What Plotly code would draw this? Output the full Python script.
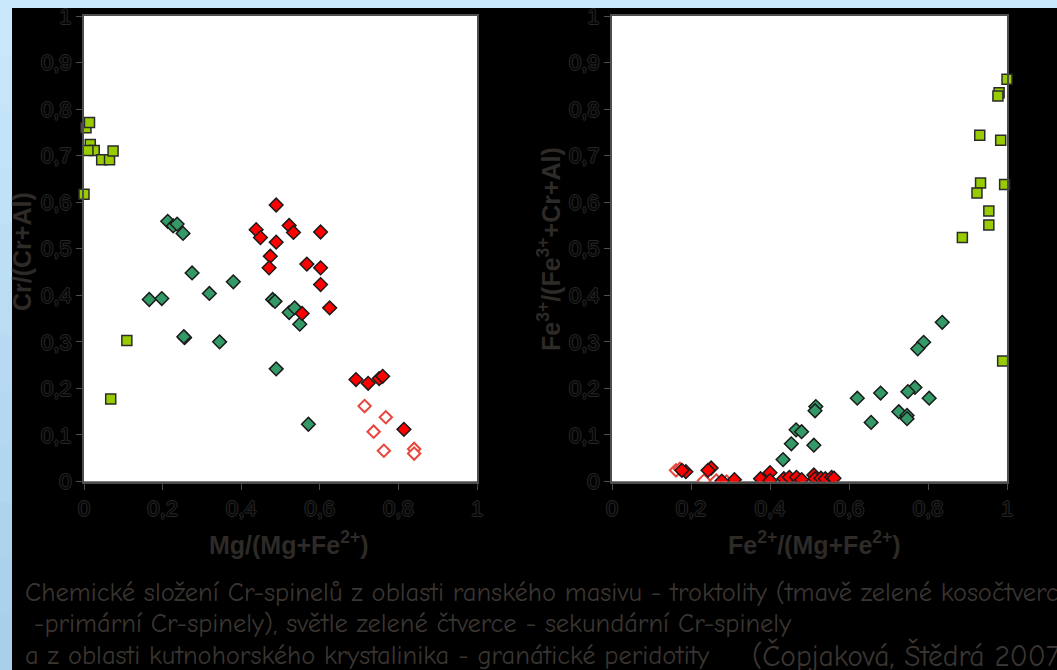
import plotly.graph_objects as go

# --- Cr/(Cr+Al) vs Mg/(Mg+Fe2+) ---------------------------------------------
sec_left_x = [0.005, 0.014, 0.016, 0.026, 0.010, 0.045, 0.065, 0.074, 0.000, 0.109, 0.068]
sec_left_y = [0.760, 0.771, 0.724, 0.711, 0.711, 0.691, 0.691, 0.710, 0.617, 0.303, 0.177]

trok_left_x = [0.213, 0.227, 0.237, 0.252, 0.275, 0.319, 0.380, 0.166, 0.198, 0.256,
               0.254, 0.345, 0.480, 0.486, 0.522, 0.536, 0.549, 0.489, 0.571]
trok_left_y = [0.559, 0.549, 0.553, 0.533, 0.448, 0.404, 0.429, 0.391, 0.393, 0.309,
               0.311, 0.300, 0.391, 0.387, 0.363, 0.373, 0.338, 0.242, 0.123]

perid_left_x = [0.489, 0.438, 0.449, 0.522, 0.533, 0.489, 0.602, 0.474, 0.471, 0.567,
                0.602, 0.602, 0.625, 0.555, 0.692, 0.723, 0.751, 0.760, 0.814]
perid_left_y = [0.594, 0.541, 0.524, 0.550, 0.535, 0.514, 0.536, 0.484, 0.459, 0.467,
                0.459, 0.423, 0.373, 0.361, 0.219, 0.211, 0.221, 0.226, 0.112]

perid_open_left_x = [0.714, 0.768, 0.737, 0.763, 0.840, 0.840]
perid_open_left_y = [0.162, 0.138, 0.107, 0.066, 0.070, 0.060]

# --- Fe3+/(Fe3++Cr+Al) vs Fe2+/(Mg+Fe2+) ------------------------------------
sec_right_x = [1.000, 0.980, 0.977, 0.931, 0.984, 0.933, 0.924, 0.994, 0.954, 0.954, 0.887, 0.989]
sec_right_y = [0.864, 0.835, 0.828, 0.744, 0.733, 0.641, 0.620, 0.638, 0.581, 0.551, 0.524, 0.259]

trok_right_x = [0.836, 0.789, 0.774, 0.767, 0.749, 0.803, 0.680, 0.621, 0.656, 0.726,
                0.747, 0.747, 0.516, 0.514, 0.466, 0.480, 0.454, 0.511, 0.433]
trok_right_y = [0.342, 0.299, 0.285, 0.202, 0.193, 0.179, 0.190, 0.179, 0.127, 0.150,
                0.142, 0.135, 0.161, 0.152, 0.111, 0.107, 0.081, 0.078, 0.047]

perid_right_x = [0.187, 0.177, 0.251, 0.243, 0.310, 0.278, 0.376, 0.400, 0.400, 0.435,
                 0.449, 0.467, 0.480, 0.511, 0.514, 0.529, 0.540, 0.556, 0.562]
perid_right_y = [0.021, 0.024, 0.029, 0.024, 0.004, 0.001, 0.006, 0.019, 0.002, 0.006,
                 0.009, 0.009, 0.004, 0.014, 0.006, 0.007, 0.006, 0.009, 0.007]

perid_open_right_x = [0.162, 0.172, 0.233, 0.264, 0.290]
perid_open_right_y = [0.024, 0.027, 0.002, 0.002, 0.000]

x_ticks = [0, 0.2, 0.4, 0.6, 0.8, 1]
y_ticks = [0, 0.1, 0.2, 0.3, 0.4, 0.5, 0.6, 0.7, 0.8, 0.9, 1]

caption_lines = [
    "Chemické složení Cr-spinelů z oblasti ranského masivu - troktolity (tmavě zelené kosočtverce",
    " -primární Cr-spinely), světle zelené čtverce - sekundární Cr-spinely",
    "a z oblasti kutnohorského krystalinika - granátické peridotity",
]
citation = "(Čopjaková, Štědrá 2007)"

W, H = 1057, 670

SQ = dict(symbol="square", size=10, color="#99cc00", line=dict(color="#2b2b2b", width=1.5))
DG = dict(symbol="diamond", size=10.5, color="#339966", line=dict(color="#1a1a1a", width=1.5))
RD = dict(symbol="diamond", size=10.5, color="#ff0000", line=dict(color="#1a1a1a", width=1.5))
RO = dict(symbol="diamond", size=9.5, color="#ffffff", line=dict(color="#e8453c", width=2))

fig = go.Figure()


def add_panel(xa, ya, sx, sy, tx, ty, px, py, ox, oy):
    fig.add_trace(go.Scatter(x=sx, y=sy, mode="markers", marker=SQ, xaxis=xa, yaxis=ya,
                             cliponaxis=False, hoverinfo="skip"))
    fig.add_trace(go.Scatter(x=tx, y=ty, mode="markers", marker=DG, xaxis=xa, yaxis=ya,
                             hoverinfo="skip"))
    fig.add_trace(go.Scatter(x=ox, y=oy, mode="markers", marker=RO, xaxis=xa, yaxis=ya,
                             hoverinfo="skip"))
    fig.add_trace(go.Scatter(x=px, y=py, mode="markers", marker=RD, xaxis=xa, yaxis=ya,
                             hoverinfo="skip"))


add_panel("x", "y", sec_left_x, sec_left_y, trok_left_x, trok_left_y,
          perid_left_x, perid_left_y, perid_open_left_x, perid_open_left_y)
add_panel("x2", "y2", sec_right_x, sec_right_y, trok_right_x, trok_right_y,
          perid_right_x, perid_right_y, perid_open_right_x, perid_open_right_y)

tick_font = dict(family="Liberation Sans, Arial, sans-serif", size=22, color="#050505",
                 shadow="1px 0 0 #262626, -1px 0 0 #262626, 0 1px 0 #262626, 0 -1px 0 #262626")

axis_common = dict(range=[0, 1], showgrid=False, zeroline=False, showline=True, mirror=True,
                   linecolor="#4d4d4d", linewidth=2, ticks="outside", ticklen=6,
                   tickcolor="#4d4d4d", tickwidth=1, tickfont=tick_font, fixedrange=True,
                   automargin=False)

# plot areas in figure pixels
y_dom = [(H - 481.5) / H, (H - 16) / H]
fig.update_layout(
    width=W, height=H,
    autosize=False,
    margin=dict(l=0, r=0, t=0, b=0, pad=0, autoexpand=False),
    paper_bgcolor="#000000",
    plot_bgcolor="#ffffff",
    showlegend=False,
    separators=", ",
    xaxis=dict(domain=[84 / W, 477 / W], anchor="y", tickvals=x_ticks, **axis_common),
    yaxis=dict(domain=y_dom, anchor="x", tickvals=y_ticks, **axis_common),
    xaxis2=dict(domain=[612 / W, 1007 / W], anchor="y2", tickvals=x_ticks, **axis_common),
    yaxis2=dict(domain=y_dom, anchor="x2", tickvals=y_ticks, **axis_common),
)

title_font = dict(family="Liberation Sans, Arial, sans-serif", size=25, color="#2e2a27")
titles = [
    ("Mg/(Mg+Fe<sup>2+</sup>)", 289, 543, 0),
    ("Fe<sup>2+</sup>/(Mg+Fe<sup>2+</sup>)", 814, 543, 0),
    ("Cr/(Cr+Al)", 22, 252, -90),
    ("Fe<sup>3+</sup>/(Fe<sup>3+</sup>+Cr+Al)", 549, 249, -90),
]
for text, px_, py_, ang in titles:
    fig.add_annotation(text="<b>" + text + "</b>", xref="paper", yref="paper",
                       x=px_ / W, y=(H - py_) / H, xanchor="center", yanchor="middle",
                       textangle=ang, showarrow=False, font=title_font)

cap_font = dict(family="Comic Sans MS, Comic Neue, DejaVu Sans, sans-serif", size=26.5,
                color="#3a3531")
for line, px_, py_ in zip(caption_lines, [23, 23, 23], [592, 623, 655]):
    fig.add_annotation(text=line.replace(" ", "&nbsp;"),
                       xref="paper", yref="paper", x=px_ / W, y=(H - py_) / H,
                       xanchor="left", yanchor="middle", showarrow=False, font=cap_font)
fig.add_annotation(text=citation.replace(" ", "&nbsp;"), xref="paper", yref="paper",
                   x=750 / W, y=(H - 655) / H, xanchor="left", yanchor="middle",
                   showarrow=False, font=dict(cap_font, size=29.5))

# light blue edge strips at the top and on the left
fig.add_shape(type="rect", xref="paper", yref="paper", x0=0, x1=1, y0=(H - 8) / H, y1=1,
              fillcolor="#c9e8fb", line_width=0, layer="above")
bands = 12
for i in range(bands):
    t = i / (bands - 1)
    r = int(201 + (168 - 201) * t)
    g = int(232 + (208 - 232) * t)
    b = int(251 + (235 - 251) * t)
    fig.add_shape(type="rect", xref="paper", yref="paper", x0=0, x1=12 / W,
                  y0=max(0, 1 - (i + 1) / bands - 0.004), y1=1 - i / bands,
                  fillcolor=f"rgb({r},{g},{b})", line_width=0, layer="above")

fig.write_html(
    "out.html",
    post_script="document.body.style.margin='0';document.body.style.overflow='hidden';"
                "document.body.style.background='#c9e8fb';",
)
